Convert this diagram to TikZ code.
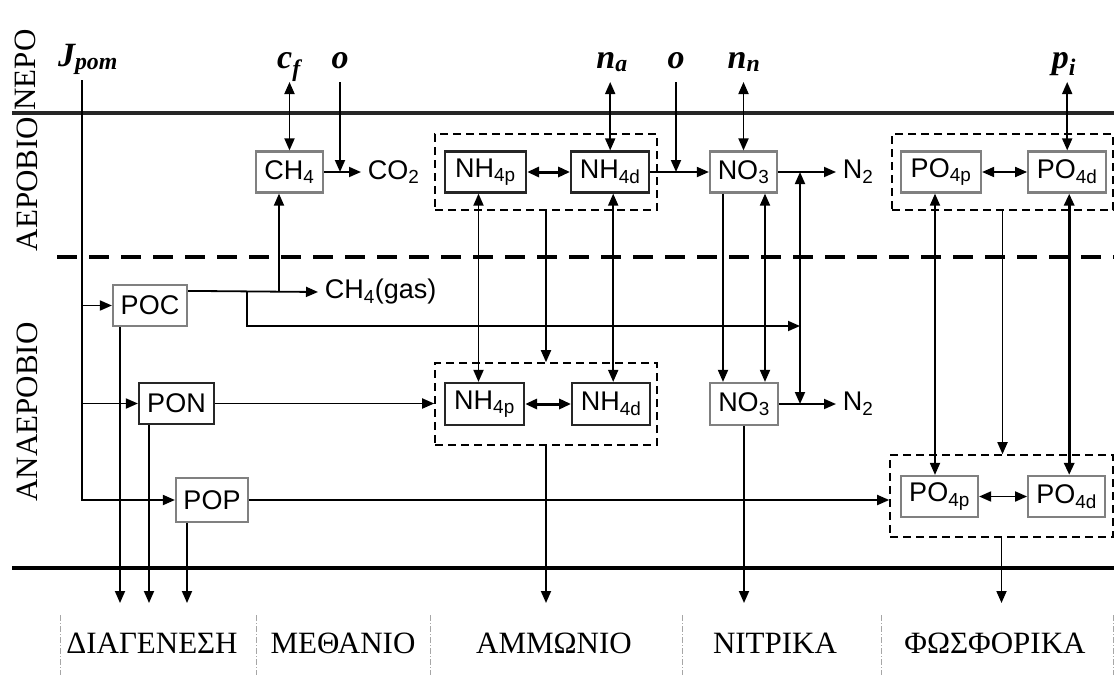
\documentclass[tikz,border=0pt]{standalone}
\usepackage{fontspec}
\setmainfont{Liberation Serif}
\setsansfont{Liberation Sans}
\usetikzlibrary{positioning,arrows.meta}

\begin{document}
\begin{tikzpicture}[x=1pt, y=-1pt, >={Triangle[length=12pt,width=10pt]}, line width=1.8pt,
    box/.style={draw=black!50, line width=2.2pt, minimum width=78pt, minimum height=41pt,
      inner sep=0pt, font=\sffamily\fontsize{27}{27}\selectfont},
    boxk/.style={box, draw=black!85},
    grp/.style={draw, line width=1.6pt, dash pattern=on 8pt off 5pt, inner sep=0pt},
    chem/.style={font=\sffamily\fontsize{27}{27}\selectfont, inner xsep=6pt},
    flux/.style={font=\bfseries\itshape\fontsize{34}{34}\selectfont, inner sep=0pt, anchor=base},
    zone/.style={font=\fontsize{31}{31}\selectfont, inner sep=0pt},
    sep/.style={black!35, line width=1pt, dash pattern=on 6pt off 2pt on 1pt off 2pt}]
    \useasboundingbox (0,0) rectangle (1114,675);

    % layers
    \draw[line width=3.2pt, black!85] (12,113) -- (1114,113);
    \draw[line width=3.5pt, dash pattern=on 20pt off 12pt] (57,257) -- (1114,257);
    \draw[line width=4pt] (12,568) -- (1114,568);
    \node[zone, rotate=90] (nero)   at (25,70)  {ΝΕΡΟ};
    \node[zone, rotate=90] (aer)    at (27,184) {ΑΕΡΟΒΙΟ};
    \node[zone, rotate=90] (anaer)  at (27,412) {ΑΝΑΕΡΟΒΙΟ};

    % fluxes from the water
    \coordinate (topY) at (0,82);
    \coordinate (sink) at (0,603);
    \node[flux] (jlab)  at (88,66)   {J\textsubscript{pom}};
    \node[flux] (cflab) at (289,68)  {c\textsubscript{f}};
    \node[flux] (oAlab) at (340,68)  {o};
    \node[flux] (nalab) at (612,68)  {n\textsubscript{a}};
    \node[flux] (oBlab) at (676,68)  {o};
    \node[flux] (nnlab) at (744,68)  {n\textsubscript{n}};
    \node[flux] (pilab) at (1064,68) {p\textsubscript{i}};

    % aerobic layer
    \node[box, minimum width=67pt] (ch4A) at (289.5,172) {CH\textsubscript{4}};
    \node[chem, anchor=west] (co2) at (361,172) {CO\textsubscript{2}};
    \node[boxk, minimum width=81pt] (nh4pA) at (485.5,172) {NH\textsubscript{4p}};
    \node[boxk, right=43pt of nh4pA] (nh4dA) {NH\textsubscript{4d}};
    \node[grp, minimum width=222pt, minimum height=76pt] (nhA) at (546,172) {};
    \node[box, minimum width=67pt] (no3A) at (743.5,172) {NO\textsubscript{3}};
    \node[chem, anchor=west] (n2A) at (836,172) {N\textsubscript{2}};
    \node[box, minimum width=80pt] (po4pA) at (941,172) {PO\textsubscript{4p}};
    \node[box, right=45pt of po4pA] (po4dA) {PO\textsubscript{4d}};
    \node[grp, minimum width=221pt, minimum height=76pt] (poA) at (1002.5,172) {};

    % anaerobic layer
    \node[box, minimum width=74pt] (poc) at (150,305.5) {POC};
    \node[chem, anchor=west] (gas) at (318,292) {CH\textsubscript{4}(gas)};
    \node[boxk, minimum width=75pt] (pon) at (176.5,403.5) {PON};
    \node[box, minimum width=72pt, minimum height=44pt] (pop) at (212,500) {POP};
    \node[boxk, minimum width=79pt, minimum height=42pt] (nh4pB) at (484.5,404) {NH\textsubscript{4p}};
    \node[boxk, minimum width=78pt, minimum height=42pt, right=46pt of nh4pB] (nh4dB) {NH\textsubscript{4d}};
    \node[grp, minimum width=222pt, minimum height=82pt] (nhB) at (546,404) {};
    \node[box, minimum width=68pt, minimum height=42pt] (no3B) at (744,404) {NO\textsubscript{3}};
    \node[chem, anchor=west] (n2B) at (836,404) {N\textsubscript{2}};
    \node[box, minimum width=77pt] (po4pB) at (939.5,496.5) {PO\textsubscript{4p}};
    \node[box, minimum width=77pt, right=48pt of po4pB] (po4dB) {PO\textsubscript{4d}};
    \node[grp, minimum width=223pt, minimum height=82pt] (poB) at (1001.5,496) {};

    % water exchange
    \draw[<->] (ch4A.north) -- (ch4A.north |- topY);
    \draw[->] (oAlab |- topY) -- (oAlab |- ch4A.east);
    \draw[<->] (nh4dA.north) -- (nh4dA.north |- topY);
    \draw[->] (oBlab |- topY) -- (oBlab |- nh4dA.east);
    \draw[<->] (no3A.north) -- (no3A.north |- topY);
    \draw[<->] (po4dA.north) -- (po4dA.north |- topY);

    % aerobic reactions
    \draw[->] (ch4A.east) -- (co2.west);
    \draw[<->, line width=3pt] (nh4pA) -- (nh4dA);
    \draw[->] (nh4dA.east) -- (no3A.west);
    \draw[->] (no3A.east) -- (n2A.west);
    \draw[<->] (po4pA) -- (po4dA);

    % organic matter input
    \coordinate (jtop) at (82,80);
    \draw[->] (jtop) |- (pop.west);
    \draw[->] (jtop |- poc.west) -- (poc.west);
    \draw[->] (jtop |- pon.west) -- (pon.west);

    % methane
    \coordinate (pocout) at ([yshift=-7pt]poc.north east);
    \coordinate (ch4in) at ([xshift=-10.5pt]ch4A.south);
    \coordinate (brdn) at (247,326);
    \coordinate (nlinkA) at (800,172);
    \coordinate (nlinkB) at (800,404);
    \draw[->] (pocout) -- (gas.west);
    \draw[->] (pocout -| ch4in) -- (ch4in);
    \draw[->] (pocout -| brdn) |- (brdn -| nlinkA);
    \draw[<->] (nlinkA) -- (nlinkB);

    % anaerobic reactions
    \draw[->] (pon.east) -- (pon.east -| nhB.west);
    \draw[<->, line width=3pt] (nh4pB) -- (nh4dB);
    \draw[->] (no3B.east) -- (n2B.west);
    \draw[->] (pop.east) -- (pop.east -| poB.west);
    \draw[<->] (po4pB) -- (po4dB);

    % exchange between layers
    \draw[<->] ([xshift=-7pt]nh4pA.south) -- ([xshift=-7pt]nh4pA.south |- nh4pB.north);
    \draw[->] (nhA.south) -- (nhB.north);
    \draw[<->] ([xshift=3pt]nh4dA.south) -- ([xshift=3pt]nh4dA.south |- nh4dB.north);
    \draw[->] ([xshift=-20.5pt]no3A.south) -- ([xshift=-20.5pt]no3A.south |- no3B.north);
    \draw[<->] ([xshift=21.5pt]no3A.south) -- ([xshift=21.5pt]no3A.south |- no3B.north);
    \draw[<->] ([xshift=-6pt]po4pA.south) -- ([xshift=-6pt]po4pA.south |- po4pB.north);
    \draw[->] (poA.south) -- (poA.south |- poB.north);
    \draw[<->, line width=3.4pt] ([xshift=2pt]po4dA.south) -- ([xshift=2pt]po4dA.south |- po4dB.north);

    % burial
    \draw[->] ([xshift=-30pt]poc.south) -- ([xshift=-30pt]poc.south |- sink);
    \draw[->] ([xshift=-27.5pt]pon.south) -- ([xshift=-27.5pt]pon.south |- sink);
    \draw[->] ([xshift=-25pt]pop.south) -- ([xshift=-25pt]pop.south |- sink);
    \draw[->] (nhB.south) -- (nhB.south |- sink);
    \draw[->] (no3B.south) -- (no3B.south |- sink);
    \draw[->] (poB.south) -- (poB.south |- sink);

    % columns
    \foreach \x in {60,256,430,682,881,1113}
        \draw[sep] (\x,615) -- (\x,675);
    \node[zone, anchor=base] (diag) at (152,653) {ΔΙΑΓΕΝΕΣΗ};
    \node[zone, anchor=base] (meth) at (343,653) {ΜΕΘΑΝΙΟ};
    \node[zone, anchor=base] (amm)  at (554,653) {ΑΜΜΩΝΙΟ};
    \node[zone, anchor=base] (nitr) at (775,653) {ΝΙΤΡΙΚΑ};
    \node[zone, anchor=base] (phos) at (995,653) {ΦΩΣΦΟΡΙΚΑ};
\end{tikzpicture}
\end{document}
